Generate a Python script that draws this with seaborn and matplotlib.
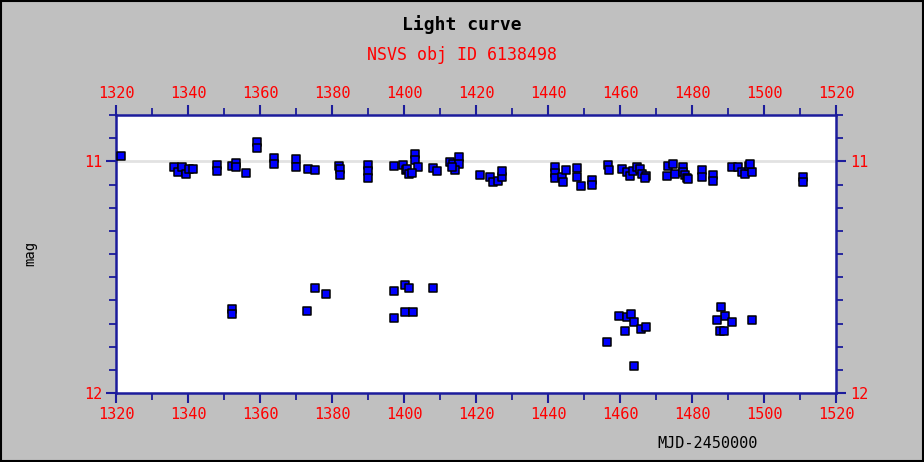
import matplotlib
matplotlib.use("Agg")
import matplotlib.pyplot as plt
import seaborn as sns
import pandas as pd
from matplotlib.ticker import MultipleLocator

# ---- data (MJD-2450000, magnitude) ----
mjd_bright = [1321.4, 1336.1, 1337.2, 1338.3, 1339.4, 1340.3, 1341.4,
              1348.1, 1348.1, 1352.2, 1353.3, 1353.3, 1356.1, 1359.2, 1359.2,
              1363.9, 1363.9, 1370.0, 1370.0, 1373.3, 1375.3,
              1381.9, 1382.2, 1382.2, 1390.0, 1390.0, 1390.0,
              1397.2, 1399.7, 1400.6, 1400.8, 1401.4, 1403.0, 1403.0, 1404.0, 1402.2,
              1408.0, 1409.2, 1412.8, 1413.6, 1415.3, 1415.3, 1414.2, 1413.3,
              1421.1, 1423.9, 1424.7, 1426.1, 1427.2, 1427.2,
              1441.9, 1441.9, 1441.9, 1443.9, 1444.2, 1445.0,
              1448.0, 1448.0, 1449.2, 1452.2, 1452.2, 1456.7, 1457.0,
              1460.6, 1462.0, 1462.8, 1463.6, 1464.7, 1465.6, 1466.1, 1467.2, 1466.9,
              1473.0, 1473.3, 1474.7, 1475.3, 1477.5, 1477.5, 1478.1, 1478.6, 1478.9,
              1482.8, 1482.8, 1485.8, 1485.8,
              1491.1, 1492.8, 1493.9, 1494.7, 1495.8, 1496.7, 1496.1,
              1510.8, 1510.8]
mag_bright = [10.978, 11.026, 11.048, 11.026, 11.056, 11.035, 11.035,
              11.017, 11.043, 11.022, 11.009, 11.026, 11.052, 10.918, 10.944,
              10.987, 11.013, 10.991, 11.026, 11.035, 11.039,
              11.022, 11.035, 11.061, 11.017, 11.043, 11.074,
              11.022, 11.017, 11.039, 11.035, 11.056, 10.970, 10.995, 11.026, 11.052,
              11.030, 11.043, 11.004, 11.013, 10.983, 11.013, 11.039, 11.026,
              11.061, 11.069, 11.091, 11.087, 11.069, 11.043,
              11.026, 11.052, 11.074, 11.069, 11.091, 11.039,
              11.030, 11.069, 11.108, 11.082, 11.100, 11.017, 11.039,
              11.035, 11.048, 11.065, 11.043, 11.026, 11.035, 11.056, 11.065, 11.074,
              11.065, 11.022, 11.013, 11.056, 11.026, 11.048, 11.061, 11.070, 11.078,
              11.039, 11.069, 11.061, 11.087,
              11.026, 11.026, 11.048, 11.056, 11.022, 11.048, 11.013,
              11.069, 11.091]

mjd_faint = [1352.2, 1352.2, 1375.3, 1378.3, 1373.0,
             1397.2, 1400.3, 1401.4, 1408.0, 1397.2, 1400.3, 1402.5,
             1459.7, 1462.0, 1463.0, 1463.9, 1465.8, 1467.2, 1461.4, 1456.4, 1463.9,
             1488.0, 1489.2, 1487.0, 1491.1, 1487.8, 1488.9, 1496.7]
mag_faint = [11.636, 11.658, 11.545, 11.571, 11.645,
             11.558, 11.532, 11.545, 11.545, 11.675, 11.649, 11.649,
             11.667, 11.671, 11.658, 11.693, 11.723, 11.714, 11.732, 11.779, 11.883,
             11.628, 11.667, 11.684, 11.693, 11.732, 11.732, 11.684]

x_ticks = list(range(1320, 1521, 20))
y_ticks = [11, 12]

df = pd.DataFrame({"mjd": mjd_bright + mjd_faint, "mag": mag_bright + mag_faint})

# ---- style ----
sns.set_theme(style="white")
plt.rcParams["font.family"] = ["DejaVu Sans Mono", "DejaVu Sans"]

bg = "#c0c0c0"
navy = "#1c1c9c"
fig = plt.figure(figsize=(9.24, 4.62), dpi=100, facecolor=bg)
ax = fig.add_axes([116 / 924, 1 - 393 / 462, 720 / 924, 278 / 462])
ax.set_facecolor("white")

ax.axhline(11, color="#e2e2e2", lw=2, zorder=0)

sns.scatterplot(data=df, x="mjd", y="mag", ax=ax, marker="s", s=40,
                color="#0000ff", edgecolor="black", linewidth=1.1, zorder=3)

ax.set_xlim(1320, 1520)
ax.set_ylim(12, 10.8)
ax.set_xticks(x_ticks)
ax.set_yticks(y_ticks)
ax.set_yticklabels([str(v) for v in y_ticks])
ax.xaxis.set_minor_locator(MultipleLocator(10))
ax.yaxis.set_minor_locator(MultipleLocator(0.1))

for s in ax.spines.values():
    s.set_color(navy)
    s.set_linewidth(1.8)

ax.tick_params(axis="both", which="both", direction="out", color=navy,
               top=True, bottom=True, left=True, right=True,
               labeltop=True, labelbottom=True, labelleft=True, labelright=True,
               labelcolor="red", labelsize=11)
ax.tick_params(which="major", length=7, width=1.5, pad=3)
ax.tick_params(which="minor", length=5, width=1.3)

ax.set_xlabel("")
ax.set_ylabel("")

fig.text(0.5, 1 - 25 / 462, "Light curve", ha="center", va="center",
         fontsize=13, fontweight="bold", color="black")
fig.text(0.5, 1 - 55 / 462, "NSVS obj ID 6138498", ha="center", va="center",
         fontsize=12, color="red")
fig.text(30 / 924, 1 - 253 / 462, "mag", ha="center", va="center",
         rotation=90, fontsize=10, color="black")
fig.text(708 / 924, 1 - 443 / 462, "MJD-2450000", ha="center", va="center",
         fontsize=11, color="black")

# figure border
fig.patches.append(plt.Rectangle((0.001, 0.002), 0.998, 0.996, transform=fig.transFigure,
                                 fill=False, edgecolor="black", linewidth=1.5))

fig.savefig("out.png", dpi=100, facecolor=bg)
